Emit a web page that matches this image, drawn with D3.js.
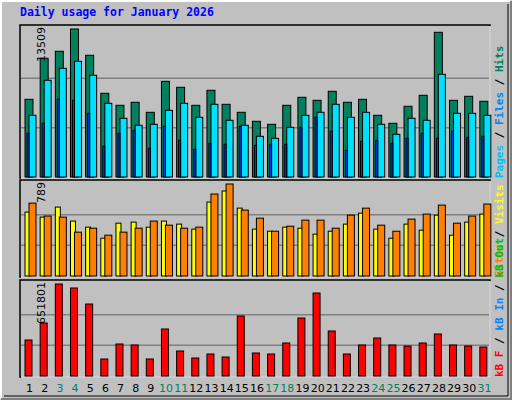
<!DOCTYPE html>
<html><head><meta charset="utf-8">
<script src="https://cdn.jsdelivr.net/npm/d3@7"></script>
<style>body{margin:0;background:#fff}</style>
</head><body>
<script>
var days = d3.range(1, 32)
var weekend = [3,4,10,11,17,18,24,25,31]
var hits  = [7092,10835,11474,13509,11109,7640,6545,6819,5906,8735,8188,6545,7914,6636,5906,5084,4810,6545,7275,7001,7823,6819,7092,5632,4902,6453,7457,13208,7001,7366,6910]
var files = [5632,8827,9922,10561,9283,6727,5358,4719,4810,6088,6727,5449,6636,5175,4719,3715,3532,4537,5632,5906,6636,5449,5906,4810,3898,5358,5175,9374,5814,5814,5632]
var pages = [3989,4902,7092,7001,5814,2802,3989,4263,2620,4628,3350,2528,3076,2985,4628,2894,2985,2985,4537,5449,4172,2437,3259,3350,3076,3532,3989,3532,4172,3624,3715]
var visits = [548,505,591,471,419,324,453,462,419,471,445,402,634,729,582,402,384,419,410,359,384,445,539,402,324,445,393,522,350,462,531]
var sites  = [625,514,505,376,410,350,376,410,471,436,410,419,703,789,565,496,384,427,479,479,410,522,582,436,384,488,531,608,453,514,617]
var kbytes = [255053,375494,651801,623462,510106,120442,226714,219629,120442,332986,177120,127526,155866,134611,425088,162950,155866,233798,410918,588038,318816,155866,219629,269222,219629,212544,233798,297562,219629,212544,205459]

var W = 512, H = 400
var svg = d3.select("body").append("svg").attr("width", W).attr("height", H)
  .style("font-family", "DejaVu Sans Mono, monospace")

svg.append("rect").attr("width", W).attr("height", H).attr("fill", "#c0c0c0")
svg.append("path").attr("d", "M1,399 L1,1 L511,1").attr("fill", "none").attr("stroke", "#fff").attr("stroke-width", 2)
svg.append("path").attr("d", "M1,399 L511,399 L511,1").attr("fill", "none").attr("stroke", "#808080").attr("stroke-width", 2)
svg.append("path").attr("d", "M4,396 L508,396 L508,4").attr("fill", "none").attr("stroke", "#000").attr("stroke-width", 1)

svg.append("text").attr("x", 20).attr("y", 16).text("Daily usage for January 2026")
  .attr("fill", "#0000ff").attr("font-weight", "bold").attr("font-size", 11.5)

var x = d3.scaleBand().domain(days).range([20, 490])

function panel(top, bottom, maxv, label, series, legend) {
  svg.append("rect").attr("x", 20).attr("y", top).attr("width", 470).attr("height", bottom - top)
    .attr("fill", "#c0c0c0").attr("stroke", "#000").attr("stroke-width", 1.5)
  svg.append("path").attr("d", "M21," + bottom + " L490," + bottom + " L490," + (top + 1))
    .attr("fill", "none").attr("stroke", "#fff").attr("stroke-width", 1.5)
  var y = d3.scaleLinear().domain([0, maxv]).range([bottom - 1, top + 4])
  var gs = d3.scaleLinear().domain([0, 3]).range([bottom - 1, top + 4])
  ;[1, 2].forEach(function(k){
    svg.append("line").attr("x1", 21).attr("x2", 489).attr("y1", gs(k)).attr("y2", gs(k))
      .attr("stroke", "#808080").attr("stroke-width", 1.5)
  })
  series.forEach(function(s){
    svg.selectAll(null).data(s.data).enter().append("rect")
      .attr("x", function(d, i){ return x(days[i]) + s.off })
      .attr("y", function(d){ return y(d) })
      .attr("width", s.w)
      .attr("height", function(d){ return bottom - 1 - y(d) })
      .attr("fill", s.color).attr("stroke", "#000").attr("stroke-width", 1)
  })
  svg.append("text").attr("transform", "translate(45," + (top + 2) + ") rotate(-90)")
    .attr("text-anchor", "end").attr("font-size", 11).attr("font-family", "DejaVu Sans, sans-serif")
    .attr("fill", "#000").text(label)
  var t = svg.append("text").attr("transform", "translate(503," + bottom + ") rotate(-90)")
    .attr("font-size", 11).attr("font-weight", "bold")
  legend.forEach(function(l, i){
    if (i > 0) t.append("tspan").attr("fill", "#000").text(" / ")
    t.append("tspan").attr("fill", l[1]).text(l[0])
  })
}

panel(25, 178, 13509, "13509", [
  {data: hits, off: 5, w: 8, color: "#00805c"},
  {data: files, off: 9, w: 7, color: "#00e0ff"},
  {data: pages, off: 7, w: 2, color: "#0040ff"}
], [["Pages", "#00c0ff"], ["Files", "#0080ff"], ["Hits", "#00805c"]])

panel(180, 277, 789, "789", [
  {data: visits, off: 5, w: 5, color: "#ffff00"},
  {data: sites, off: 9, w: 7, color: "#ff8000"}
], [["Sites", "#ff8000"], ["Visits", "#ffff00"]])

panel(280, 377, 651801, "651801", [
  {data: kbytes, off: 5, w: 7, color: "#ff0000"}
], [["kB F", "#ff0000"], ["kB In", "#0080ff"], ["kB Out", "#00c000"]])

svg.selectAll(null).data(days).enter().append("text")
  .attr("x", function(d){ return x(d) + x.bandwidth() / 2 + 2 })
  .attr("y", 392).attr("text-anchor", "middle").attr("font-size", 11)
  .attr("font-family", "DejaVu Sans, sans-serif")
  .attr("fill", function(d){ return weekend.indexOf(d) >= 0 ? "#00805c" : "#000" })
  .text(function(d){ return d })
</script>
</body></html>
